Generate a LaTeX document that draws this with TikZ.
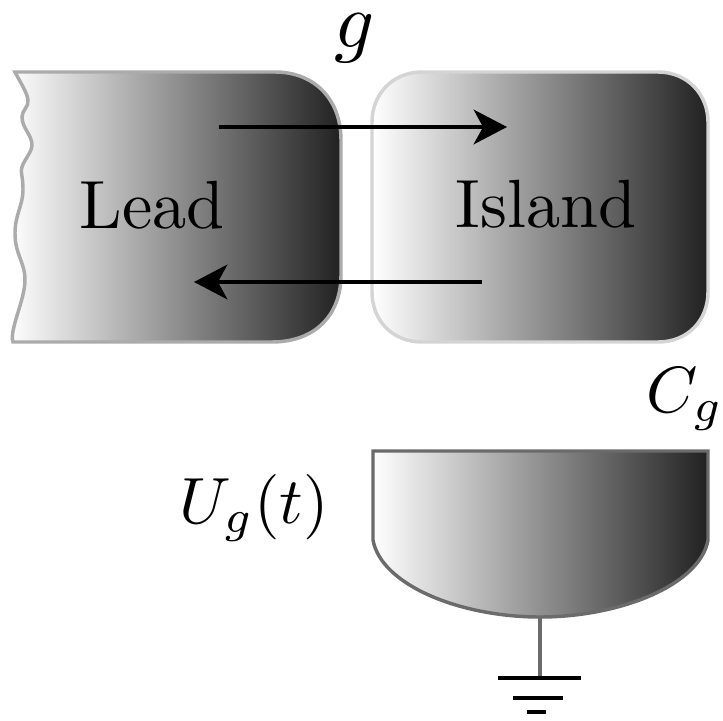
\documentclass[tikz,border=0pt]{standalone}
\usepackage{amsmath}
\usepackage{xcolor}
\usetikzlibrary{arrows.meta}

\tikzset{
  plate/.style={line width=2.6pt,left color=white,middle color=black!42,right color=black!87},
  hop/.style={line width=2.8pt,-{Stealth[length=25pt,width=26pt,inset=7pt]}},
  bar/.style={line width=2.8pt,black},
  lbl/.style={anchor=base,inner sep=0pt,font=\normalsize,scale=5.12},
  mathlbl/.style={anchor=base,inner sep=0pt,font=\normalsize,scale=4.9}
}

\begin{document}
\begin{tikzpicture}[x=0.75pt,y=0.75pt,yscale=-1,xscale=1]
\useasboundingbox (0,0) rectangle (723,720);

%Lead
\draw [plate,draw=black!33] (15,72) -- (275,72) .. controls (315,72) and (341,100) .. (341,140) -- (341,275) .. controls (341,315) and (315,342) .. (272,342) -- (13,342) .. controls (9,330) and (25,300) .. (25,280) .. controls (25,262) and (15,255) .. (15,233) .. controls (15,215) and (23,205) .. (23,190) .. controls (23,175) and (20,172) .. (22,167) .. controls (24,160) and (32,152) .. (32,145) .. controls (32,135) and (22,128) .. (22,117) .. controls (22,110) and (29,107) .. (28,100) .. controls (27,92) and (20,82) .. (15,72) -- cycle ;
%Island
\draw [plate,draw=black!17] (422,72) -- (658,72) .. controls (688,72) and (708,95) .. (708,122) -- (708,292) .. controls (708,320) and (688,342) .. (658,342) -- (422,342) .. controls (392,342) and (372,320) .. (372,292) -- (372,122) .. controls (372,95) and (392,72) .. (422,72) -- cycle ;
%Gate
\draw [plate,draw=black!58] (373,451) -- (708,451) -- (708,540) .. controls (700,585) and (620,617) .. (540,617) .. controls (460,617) and (381,585) .. (373,540) -- cycle ;

%Arrows
\coordinate (top start) at (219,127);
\coordinate (top end) at (507,127);
\coordinate (bottom start) at (482,282);
\coordinate (bottom end) at (194,282);
\draw [hop] (top start) -- (top end);
\draw [hop] (bottom start) -- (bottom end);

%Ground
\coordinate (gate bottom) at (540,617);
\coordinate (ground) at (540,678);
\draw [line width=2.8pt,black!58] (gate bottom) -- (ground);
\coordinate (bar1 left) at (498,678);
\coordinate (bar1 right) at (581,678);
\coordinate (bar2 left) at (513,698);
\coordinate (bar2 right) at (563,698);
\coordinate (bar3 left) at (527,712);
\coordinate (bar3 right) at (546,712);
\draw [bar] (bar1 left) -- (bar1 right);
\draw [bar] (bar2 left) -- (bar2 right);
\draw [bar] (bar3 left) -- (bar3 right);

% Text Node
\node (lead) [lbl] at (152,228) {Lead};
\node (island) [lbl] at (546,227) {Island};
\node (g) [mathlbl,scale=1.2] at (355,48) {$g$};
\node (cg) [mathlbl] at (685,412) {$C_g$};
\node (ug) [mathlbl] at (254,523) {$U_g(t)$};
\end{tikzpicture}
\end{document}
